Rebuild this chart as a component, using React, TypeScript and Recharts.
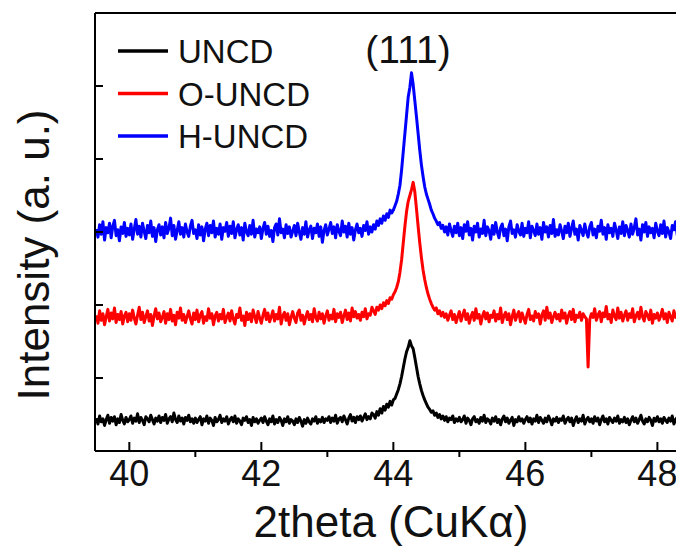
import { LineChart, Line, XAxis, YAxis, ReferenceLine } from 'recharts';

// sampling of the scans: 39.500 .. 48.600 deg, every 0.025 deg
const X_START = 39.5;
const X_STEP = 0.025;

const X_TICKS = [40, 41, 42, 43, 44, 45, 46, 47, 48];
const Y_TICKS = [0, 1, 2, 3, 4, 5, 6];

// intensities (a.u., stacked offsets), one row per half degree
const UNCD = [
	0.45, 0.37, 0.48, 0.40, 0.44, 0.35, 0.43, 0.49, 0.38, 0.46, 0.41, 0.47, 0.36, 0.44, 0.39, 0.50, 0.42, 0.37, 0.46, 0.40,
	0.43, 0.48, 0.38, 0.45, 0.41, 0.51, 0.39, 0.46, 0.42, 0.36, 0.47, 0.44, 0.40, 0.49, 0.43, 0.37, 0.45, 0.41, 0.48, 0.39,
	0.46, 0.42, 0.50, 0.38, 0.44, 0.47, 0.40, 0.52, 0.43, 0.39, 0.48, 0.41, 0.45, 0.37, 0.46, 0.42, 0.49, 0.40, 0.44, 0.38,
	0.45, 0.39, 0.43, 0.47, 0.36, 0.44, 0.41, 0.48, 0.38, 0.45, 0.42, 0.35, 0.46, 0.40, 0.43, 0.49, 0.39, 0.44, 0.41, 0.47,
	0.37, 0.43, 0.46, 0.40, 0.48, 0.38, 0.44, 0.41, 0.36, 0.45, 0.42, 0.47, 0.39, 0.43, 0.35, 0.46, 0.40, 0.44, 0.38, 0.42,
	0.45, 0.39, 0.47, 0.41, 0.36, 0.44, 0.40, 0.48, 0.37, 0.43, 0.39, 0.46, 0.42, 0.35, 0.44, 0.40, 0.47, 0.38, 0.43, 0.41,
	0.36, 0.44, 0.39, 0.46, 0.41, 0.34, 0.43, 0.38, 0.45, 0.40, 0.37, 0.44, 0.41, 0.47, 0.38, 0.43, 0.40, 0.46, 0.39, 0.44,
	0.42, 0.47, 0.39, 0.45, 0.41, 0.49, 0.38, 0.44, 0.46, 0.40, 0.48, 0.43, 0.37, 0.45, 0.50, 0.41, 0.46, 0.39, 0.47, 0.43,
	0.48, 0.41, 0.46, 0.51, 0.43, 0.47, 0.44, 0.52, 0.50, 0.45, 0.54, 0.49, 0.58, 0.52, 0.61, 0.56, 0.64, 0.60, 0.68, 0.63,
	0.70, 0.72, 0.78, 0.84, 0.92, 1.02, 1.14, 1.26, 1.36, 1.42, 1.51, 1.44, 1.40, 1.28, 1.15, 1.02, 0.92, 0.83, 0.76, 0.70,
	0.65, 0.60, 0.57, 0.53, 0.55, 0.49, 0.52, 0.46, 0.50, 0.44, 0.48, 0.42, 0.47, 0.40, 0.45, 0.43, 0.48, 0.39, 0.44, 0.41,
	0.46, 0.40, 0.43, 0.48, 0.38, 0.45, 0.42, 0.36, 0.44, 0.47, 0.40, 0.43, 0.38, 0.46, 0.41, 0.49, 0.39, 0.44, 0.42, 0.37,
	0.45, 0.41, 0.47, 0.39, 0.43, 0.36, 0.44, 0.48, 0.40, 0.45, 0.38, 0.42, 0.46, 0.35, 0.43, 0.40, 0.47, 0.41, 0.44, 0.38,
	0.43, 0.47, 0.40, 0.45, 0.37, 0.44, 0.41, 0.49, 0.39, 0.46, 0.42, 0.38, 0.45, 0.40, 0.48, 0.43, 0.36, 0.44, 0.41, 0.46,
	0.39, 0.44, 0.42, 0.48, 0.38, 0.43, 0.46, 0.40, 0.45, 0.35, 0.42, 0.47, 0.39, 0.44, 0.41, 0.49, 0.37, 0.43, 0.46, 0.40,
	0.44, 0.38, 0.47, 0.41, 0.45, 0.36, 0.43, 0.48, 0.40, 0.44, 0.37, 0.46, 0.42, 0.39, 0.45, 0.41, 0.48, 0.38, 0.43, 0.40,
	0.46, 0.39, 0.44, 0.36, 0.42, 0.47, 0.40, 0.45, 0.38, 0.43, 0.49, 0.41, 0.37, 0.44, 0.40, 0.46, 0.42, 0.35, 0.45, 0.41,
	0.47, 0.40, 0.44, 0.38, 0.46, 0.42, 0.39, 0.45, 0.41, 0.48, 0.37, 0.43, 0.46, 0.40, 0.44, 0.39, 0.47, 0.42, 0.38, 0.45,
	0.41, 0.46, 0.39, 0.44, 0.42,
];

const O_UNCD = [
	1.86, 1.75, 1.92, 1.79, 1.88, 1.73, 1.84, 1.94, 1.78, 1.89, 1.81, 1.96, 1.76, 1.87, 1.80, 1.91, 1.74, 1.85, 1.90, 1.77,
	1.88, 1.79, 1.93, 1.82, 1.74, 1.86, 1.97, 1.80, 1.90, 1.76, 1.84, 1.92, 1.78, 1.87, 1.72, 1.85, 1.95, 1.81, 1.89, 1.77,
	1.83, 1.91, 1.75, 1.88, 1.80, 1.94, 1.78, 1.86, 1.73, 1.90, 1.82, 1.96, 1.79, 1.87, 1.76, 1.84, 1.92, 1.81, 1.74, 1.89,
	1.80, 1.93, 1.77, 1.86, 1.91, 1.75, 1.84, 1.79, 1.95, 1.82, 1.88, 1.73, 1.85, 1.90, 1.78, 1.87, 1.81, 1.94, 1.76, 1.83,
	1.89, 1.78, 1.92, 1.81, 1.74, 1.87, 1.83, 1.96, 1.79, 1.85, 1.72, 1.90, 1.80, 1.88, 1.77, 1.93, 1.84, 1.76, 1.91, 1.82,
	1.75, 1.86, 1.94, 1.80, 1.89, 1.77, 1.84, 1.92, 1.78, 1.87, 1.81, 1.97, 1.74, 1.85, 1.90, 1.79, 1.88, 1.73, 1.83, 1.91,
	1.82, 1.76, 1.89, 1.93, 1.79, 1.86, 1.74, 1.84, 1.91, 1.80, 1.87, 1.77, 1.95, 1.83, 1.78, 1.90, 1.81, 1.88, 1.75, 1.85,
	1.92, 1.79, 1.86, 1.81, 1.94, 1.77, 1.88, 1.83, 1.90, 1.76, 1.85, 1.93, 1.80, 1.89, 1.78, 1.96, 1.84, 1.91, 1.82, 1.87,
	1.79, 1.90, 1.84, 1.95, 1.81, 1.88, 1.86, 1.97, 1.92, 1.87, 1.97, 1.93, 2.00, 1.95, 2.03, 1.99, 2.06, 2.02, 2.10, 2.08,
	2.14, 2.18, 2.24, 2.32, 2.45, 2.62, 2.85, 3.08, 3.28, 3.42, 3.50, 3.58, 3.68, 3.55, 3.32, 3.08, 2.85, 2.65, 2.48, 2.35,
	2.24, 2.15, 2.08, 2.02, 1.97, 1.93, 1.96, 1.88, 1.92, 1.85, 1.90, 1.83, 1.88, 1.79, 1.86, 1.92, 1.80, 1.87, 1.76, 1.84,
	1.91, 1.78, 1.86, 1.93, 1.80, 1.88, 1.75, 1.84, 1.90, 1.79, 1.95, 1.82, 1.87, 1.74, 1.85, 1.91, 1.81, 1.89, 1.77, 1.86,
	1.83, 1.92, 1.78, 1.87, 1.81, 1.96, 1.76, 1.85, 1.90, 1.80, 1.88, 1.73, 1.84, 1.93, 1.79, 1.86, 1.91, 1.77, 1.89, 1.82,
	1.75, 1.87, 1.94, 1.80, 1.85, 1.78, 1.91, 1.83, 1.88, 1.74, 1.86, 1.92, 1.79, 1.97, 1.82, 1.89, 1.76, 1.84, 1.90, 1.81,
	1.87, 1.78, 1.93, 1.82, 1.89, 1.75, 1.85, 1.91, 1.80, 1.94, 1.77, 1.86, 1.83, 1.90, 1.79, 1.88, 1.84, 1.81, 1.15, 1.80,
	1.88, 1.83, 1.95, 1.79, 1.86, 1.91, 1.77, 1.89, 1.84, 1.98, 1.81, 1.87, 1.76, 1.93, 1.85, 1.80, 1.96, 1.82, 1.90, 1.78,
	1.86, 1.92, 1.79, 1.88, 1.83, 1.95, 1.77, 1.85, 1.90, 1.81, 1.97, 1.84, 1.78, 1.91, 1.86, 1.80, 1.93, 1.75, 1.87, 1.82,
	1.89, 1.79, 1.85, 1.94, 1.81, 1.88, 1.76, 1.90, 1.84, 1.78, 1.92, 1.83, 1.87, 1.74, 1.86, 1.91, 1.80, 1.88, 1.77, 1.85,
	1.92, 1.81, 1.87, 1.78, 1.84,
];

const H_UNCD = [
	3.04, 2.93, 3.10, 2.97, 3.14, 2.89, 3.06, 2.99, 3.12, 2.92, 3.08, 3.16, 2.95, 3.03, 2.88, 3.07, 2.98, 3.13, 2.94, 3.05,
	2.96, 3.11, 2.90, 3.04, 3.17, 2.97, 3.08, 2.93, 3.12, 3.01, 2.91, 3.09, 2.99, 3.15, 2.94, 3.06, 2.87, 3.03, 3.10, 2.96,
	3.07, 2.92, 3.13, 2.98, 3.05, 3.19, 2.95, 3.09, 2.90, 3.02, 3.14, 2.97, 3.06, 2.93, 3.11, 3.00, 2.94, 3.08, 3.16, 2.98,
	3.03, 2.91, 3.10, 2.96, 3.07, 2.88, 3.04, 3.12, 2.95, 3.09, 2.99, 3.15, 2.93, 3.05, 2.97, 3.11, 2.90, 3.06, 3.01, 3.13,
	2.94, 3.08, 2.98, 3.14, 2.92, 3.03, 3.10, 2.96, 3.06, 2.89, 3.12, 3.00, 2.95, 3.09, 2.97, 3.16, 2.93, 3.04, 2.99, 3.07,
	2.91, 3.05, 3.13, 2.97, 3.08, 2.94, 3.02, 2.87, 3.06, 3.11, 2.96, 3.18, 2.99, 3.04, 2.92, 3.10, 2.98, 3.07, 2.93, 3.01,
	3.09, 2.95, 3.12, 3.00, 2.90, 3.06, 2.97, 3.14, 2.93, 3.03, 3.08, 2.91, 3.05, 2.99, 3.11, 2.94, 3.07, 2.86, 3.02, 3.10,
	2.96, 3.04, 3.13, 2.98, 3.07, 2.92, 3.10, 3.01, 2.95, 3.15, 3.00, 3.08, 2.93, 3.12, 2.97, 3.06, 2.89, 3.03, 3.11, 2.99,
	3.05, 2.94, 3.09, 3.02, 3.14, 2.97, 3.07, 3.00, 3.10, 3.04, 3.15, 3.09, 3.18, 3.12, 3.22, 3.16, 3.25, 3.20, 3.30, 3.26,
	3.30, 3.36, 3.42, 3.52, 3.64, 3.85, 4.10, 4.35, 4.60, 4.85, 4.98, 5.18, 5.02, 4.80, 4.58, 4.35, 4.12, 3.92, 3.76, 3.62,
	3.52, 3.45, 3.38, 3.30, 3.25, 3.19, 3.15, 3.10, 3.13, 3.05, 3.09, 3.00, 3.07, 2.96, 3.11, 3.02, 2.94, 3.08, 2.99, 3.12,
	2.95, 3.06, 2.91, 3.10, 3.01, 3.14, 2.96, 3.05, 2.89, 3.08, 3.00, 3.12, 2.93, 3.04, 2.98, 3.16, 2.95, 3.07, 3.02, 2.90,
	3.09, 2.97, 3.13, 3.00, 2.92, 3.06, 3.11, 2.95, 3.04, 2.88, 3.07, 3.15, 2.98, 3.03, 2.93, 3.10, 3.01, 2.96, 3.12, 2.94,
	3.05, 2.99, 3.14, 2.92, 3.08, 3.02, 2.95, 3.11, 2.97, 3.06, 2.90, 3.13, 3.00, 3.07, 2.93, 3.09, 2.98, 3.17, 2.94, 3.03,
	2.96, 3.10, 3.01, 2.91, 3.08, 2.99, 3.12, 2.94, 3.05, 3.15, 2.97, 3.04, 2.89, 3.09, 3.02, 2.95, 3.11, 3.00, 2.93, 3.07,
	3.13, 2.96, 3.04, 2.92, 3.08, 3.01, 3.16, 2.97, 3.06, 2.90, 3.10, 2.99, 3.05, 2.94, 3.12, 3.03, 2.91, 3.07, 2.98, 3.14,
	2.95, 3.09, 3.02, 2.93, 3.11, 2.97, 3.06, 3.18, 2.96, 3.04, 2.89, 3.10, 3.00, 3.13, 2.94, 3.07, 2.99, 3.05, 2.92, 3.12,
	3.01, 2.95, 3.10, 2.98, 3.15, 2.93, 3.06, 3.00, 2.91, 3.09, 3.03, 3.14, 2.96, 3.07, 2.90, 3.11, 2.99, 3.04, 2.94, 3.08,
	2.97, 3.12, 3.00, 2.93, 3.06,
];

const SERIES = [
	{ key: 'uncd', name: 'UNCD', color: '#000000', values: UNCD },
	{ key: 'ouncd', name: 'O-UNCD', color: '#ff0000', values: O_UNCD },
	{ key: 'huncd', name: 'H-UNCD', color: '#0000ff', values: H_UNCD },
];

const rows = H_UNCD.map((_, i) => {
	const row: any = { x: +(X_START + i * X_STEP).toFixed(3) };
	SERIES.forEach((s) => (row[s.key] = s.values[i]));
	return row;
});

const FONT = '"Liberation Sans", Arial, sans-serif';

const XTick = ({ x, y, payload }: any) => {
	const major = payload.value % 2 === 0;
	return (
		<g>
			<line x1={x} x2={x} y1={y} y2={major ? y - 9 : y + 6} stroke="#000" strokeWidth={2} />
			{major && (
				<text x={x} y={y + 35} textAnchor="middle" fontSize={36} fontFamily={FONT} fill="#111">
					{payload.value}
				</text>
			)}
		</g>
	);
};

const YTick = ({ x, y }: any) => (
	<line x1={x} x2={x + 8} y1={y} y2={y} stroke="#000" strokeWidth={2} />
);

export default function App() {
	return (
		<div style={{ position: 'relative', width: 684, height: 554, margin: -8, overflow: 'hidden' }}>
			<LineChart width={700} height={554} data={rows} margin={{ top: 13, right: 3, bottom: 0, left: 0 }}>
				<XAxis
					type="number"
					dataKey="x"
					domain={[39.48, 48.6]}
					ticks={X_TICKS}
					allowDataOverflow
					height={103}
					tickSize={0}
					tickMargin={0}
					tickLine={false}
					tick={<XTick />}
					axisLine={{ stroke: '#000', strokeWidth: 2 }}
				/>
				<YAxis
					domain={[0, 6]}
					ticks={Y_TICKS}
					width={95}
					tickSize={0}
					tickMargin={0}
					tickLine={false}
					tick={<YTick />}
					axisLine={{ stroke: '#000', strokeWidth: 2 }}
				/>
				<ReferenceLine y={6} stroke="#000" strokeWidth={2} />
				{SERIES.map((s) => (
					<Line
						key={s.key}
						dataKey={s.key}
						name={s.name}
						stroke={s.color}
						strokeWidth={3}
						strokeLinejoin="round"
						dot={false}
						type="linear"
						isAnimationActive={false}
					/>
				))}
			</LineChart>
			<svg width={684} height={554} style={{ position: 'absolute', left: 0, top: 0, pointerEvents: 'none' }}>
				{SERIES.map((s, i) => (
					<g key={s.key}>
						<line x1={118} x2={168} y1={51 + i * 42.5} y2={51 + i * 42.5} stroke={s.color} strokeWidth={3.5} />
						<text x={178} y={63 + i * 42.5} fontSize={33} fontFamily={FONT} fill="#111">
							{s.name}
						</text>
					</g>
				))}
				<text x={408} y={63} textAnchor="middle" fontSize={39} fontFamily={FONT} fill="#111">
					(111)
				</text>
				<text x={391} y={537} textAnchor="middle" fontSize={44} fontFamily={FONT} fill="#111">
					2theta (CuKα)
				</text>
				<text
					transform="translate(49, 255) rotate(-90)"
					textAnchor="middle"
					fontSize={44}
					fontFamily={FONT}
					fill="#111"
				>
					Intensity (a. u.)
				</text>
			</svg>
		</div>
	);
}
